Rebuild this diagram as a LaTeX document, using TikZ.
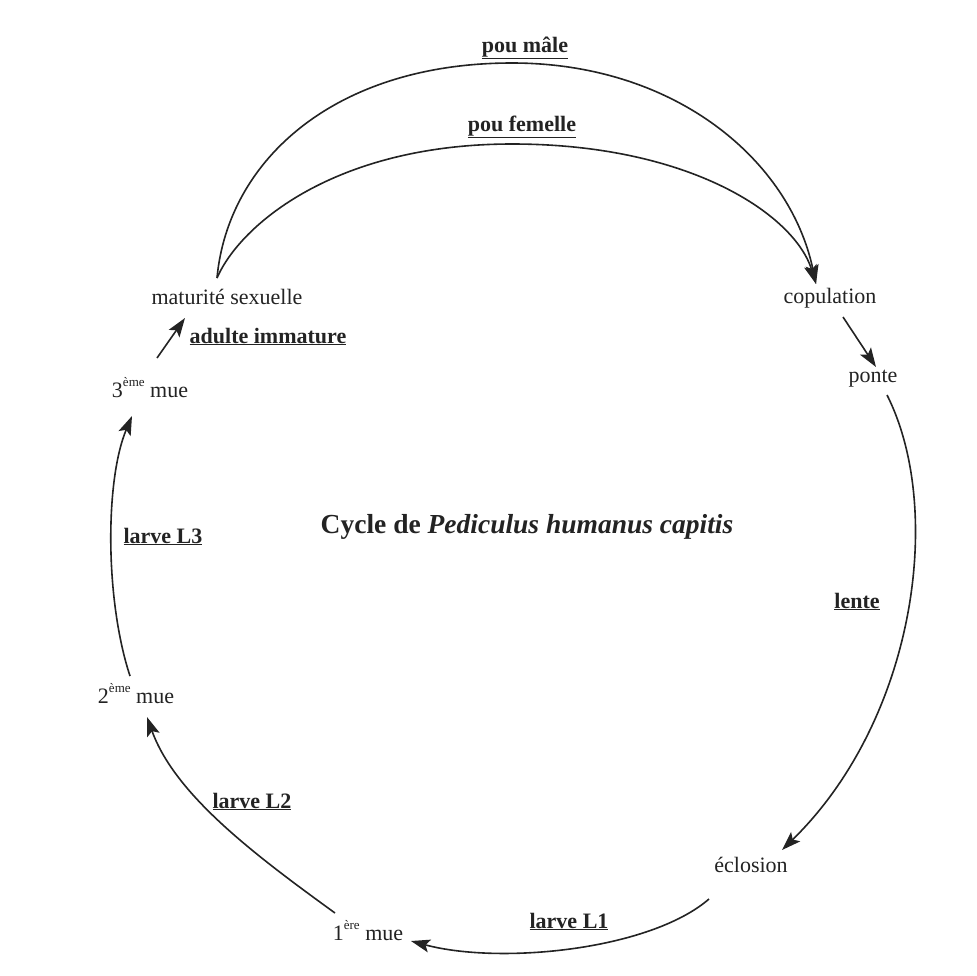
\documentclass[tikz,border=0pt]{standalone}
\usepackage{fontspec}
\setmainfont{Liberation Serif}
\usetikzlibrary{arrows.meta,calc}
\definecolor{ink}{RGB}{35,35,35}
\newcommand{\ordsup}[1]{\raisebox{0.5em}{\fontsize{13}{13}\selectfont #1}}
\begin{document}
\begin{tikzpicture}[x=1pt,y=-1pt,
  lbl/.style={anchor=base,inner sep=0pt,text=ink,font=\fontsize{22}{26}\selectfont},
  blbl/.style={lbl,font=\fontsize{22}{26}\selectfont\bfseries},
  arr/.style={draw=ink,line width=1.6pt,-{Stealth[length=19pt,width=13pt,inset=4pt]}}]
\useasboundingbox[fill=white] (0,0) rectangle (977,975);

% labels
\node[blbl] (pm) at (525,52) {\underline{pou mâle}};
\node[blbl] (pf) at (522,131) {\underline{pou femelle}};
\node[lbl] (mat) at (227,304) {maturité sexuelle};
\node[blbl] (adu) at (268,343) {\underline{adulte immature}};
\node[lbl] (cop) at (830,303) {copulation};
\node[lbl] (ponte) at (873,382) {ponte};
\node[blbl] (lente) at (857,608) {\underline{lente}};
\node[lbl,font=\fontsize{27.5}{32}\selectfont\bfseries] (title) at (527,533) {Cycle de \textit{Pediculus humanus capitis}};
\node[blbl] (l3) at (163,543) {\underline{larve L3}};
\node[lbl] (mue3) at (150,397) {3\ordsup{ème} mue};
\node[lbl] (mue2) at (136,703) {2\ordsup{ème} mue};
\node[blbl] (l2) at (252,808) {\underline{larve L2}};
\node[lbl] (ecl) at (751,872) {éclosion};
\node[blbl] (l1) at (569,928) {\underline{larve L1}};
\node[lbl] (mue1) at (368,940) {1\ordsup{ère} mue};

% connector ends
\coordinate (matT) at ($(mat.base)+(-10,-26)$);
\coordinate (copT) at ($(cop.base)+(-14,-19)$);
\coordinate (copB) at ($(cop.base)+(13,14)$);
\coordinate (ponteT) at ($(ponte.base)+(3,-15)$);
\coordinate (ponteB) at ($(ponte.base)+(14,13)$);
\coordinate (eclT) at ($(ecl.base)+(31,-22)$);
\coordinate (eclB) at ($(ecl.base)+(-42,27)$);
\coordinate (mue1R) at ($(mue1.base)+(43,1)$);
\coordinate (mue1T) at ($(mue1.base)+(-33,-27)$);
\coordinate (mue2B) at ($(mue2.base)+(11,14)$);
\coordinate (mue2T) at ($(mue2.base)+(-6,-27)$);
\coordinate (mue3B) at ($(mue3.base)+(-18,19)$);
\coordinate (mue3T) at ($(mue3.base)+(7,-39)$);
\coordinate (matB) at ($(mat.base)+(-42,14)$);

% connectors
\draw[arr] (matT) .. controls (228,160) and (335,63) .. (512,63)
                  .. controls (675,63) and (790,160) .. (copT);
\draw[arr] (matT) .. controls (240,225) and (335,144) .. (512,144)
                  .. controls (690,144) and (795,215) .. (copT);
\draw[arr] (copB) -- (ponteT);
\draw[arr] (ponteB) .. controls (945,510) and (915,720) .. (eclT);
\draw[arr] (eclB) .. controls (650,950) and (500,965) .. (mue1R);
\draw[arr] (mue1T) .. controls (255,855) and (175,795) .. (mue2B);
\draw[arr] (mue2T) .. controls (105,600) and (105,480) .. (mue3B);
\draw[arr] (mue3T) -- (matB);
\end{tikzpicture}
\end{document}
